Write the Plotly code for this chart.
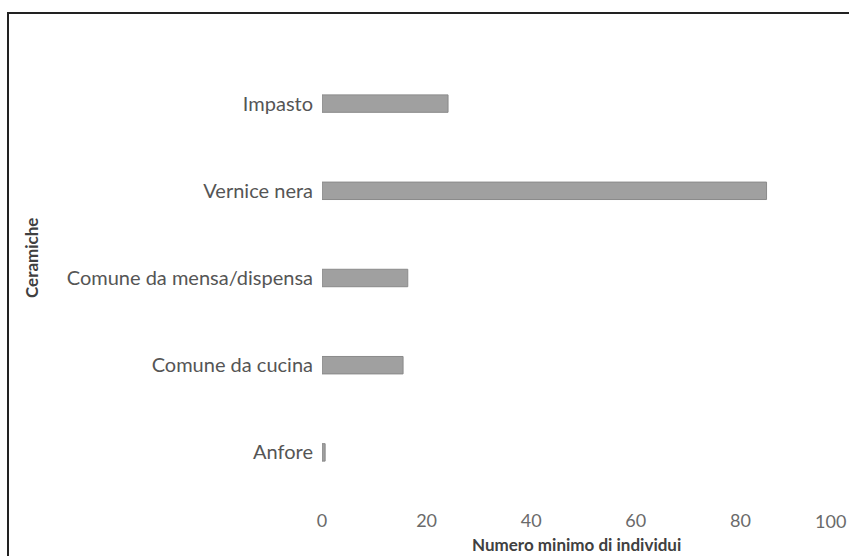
import plotly.graph_objects as go

categories = ["Anfore", "Comune da cucina", "Comune da mensa/dispensa", "Vernice nera", "Impasto"]
values = [0.6, 15.5, 16.4, 85, 24.1]
x_ticks = [0, 20, 40, 60, 80, 100]
x_ticktext = ["0", "20", "40", "60", "80", ""]
last_tick_label = "100"

W, H = 849, 556
ml, mr, mt, mb = 322, 4, 60, 60
pw = W - ml - mr
ph = H - mt - mb

def px_x(p):
    return (p - ml) / pw

def px_y(p):
    return (H - mb - p) / ph

fig = go.Figure(go.Bar(
    y=categories, x=values, orientation="h", width=0.2,
    marker=dict(color="#a0a0a0", line=dict(color="#8a8a8a", width=1)),
))

font_family = "Lato, 'Open Sans', sans-serif"
fig.update_layout(
    width=W, height=H,
    margin=dict(l=ml, r=mr, t=mt, b=mb, autoexpand=False),
    paper_bgcolor="white", plot_bgcolor="white",
    showlegend=False,
    font=dict(family=font_family, color="#595959", size=20),
    xaxis=dict(range=[0, 100], tickvals=x_ticks, ticktext=x_ticktext,
               showgrid=False, zeroline=False,
               showline=False, ticks="", ticklabelstandoff=12, ticklabeloverflow="allow",
               tickfont=dict(size=18, color="#6a6a6a")),
    yaxis=dict(range=[-0.5, 4.5], showgrid=False, zeroline=False, showline=False,
               ticks="", ticklabelstandoff=8, tickfont=dict(size=20, color="#555555")),
    shapes=[dict(type="rect", xref="paper", yref="paper",
                 x0=px_x(8), x1=px_x(860), y0=px_y(570), y1=px_y(13),
                 line=dict(color="#222222", width=2), fillcolor="rgba(0,0,0,0)")],
    annotations=[
        dict(text=last_tick_label, xref="x", yref="paper", x=x_ticks[-1], y=px_y(521),
             showarrow=False, xanchor="right", yanchor="middle", xshift=3,
             font=dict(size=18, color="#6a6a6a")),
        dict(text="<b>Numero minimo di individui</b>", xref="paper", yref="paper",
             x=px_x(576), y=px_y(544), showarrow=False, xanchor="center", yanchor="middle",
             font=dict(size=17, color="#404040")),
        dict(text="<b>Ceramiche</b>", xref="paper", yref="paper",
             x=px_x(31), y=px_y(258), showarrow=False, textangle=-90,
             xanchor="center", yanchor="middle", font=dict(size=17, color="#404040")),
    ],
)

fig.write_html("out.html")
